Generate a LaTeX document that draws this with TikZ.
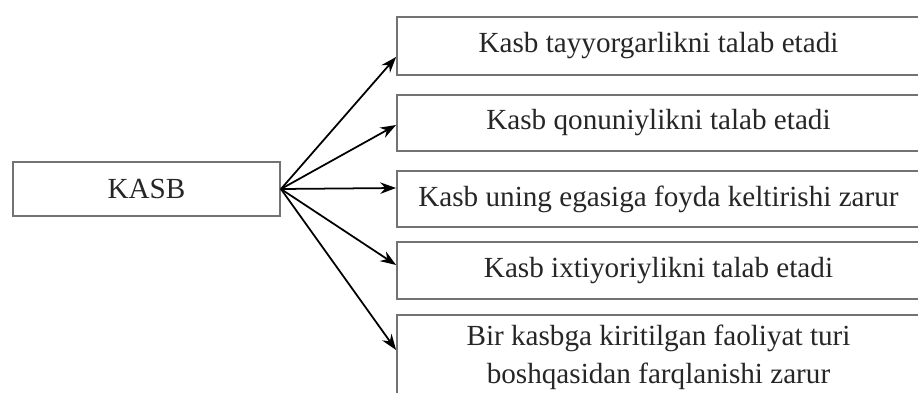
\documentclass[tikz,border=0pt]{standalone}
\usepackage{fontspec}
\setmainfont{Liberation Serif}
\usetikzlibrary{arrows.meta}

\begin{document}
\begin{tikzpicture}[x=0.02cm,y=-0.02cm,>=Stealth,
  card/.style={draw=black!55,line width=1.1pt,align=center,text=black!85,
    font=\fontsize{16.6}{21.5}\selectfont,inner sep=0pt},
  leaf/.style={card,minimum width=10.46cm},
  ray/.style={->,line width=1pt,>={Stealth[length=9pt,width=6.5pt]}}]
  \clip (0,0) rectangle (918,392);
  \useasboundingbox (0,0) rectangle (918,392);
  \node[card,minimum width=5.34cm,minimum height=1.08cm] (k) at (146.5,189) {KASB};
  \node[leaf,minimum height=1.16cm] (b1) at (658.5,46) {Kasb tayyorgarlikni talab etadi};
  \node[leaf,minimum height=1.12cm] (b2) at (658.5,123) {Kasb qonuniylikni talab etadi};
  \node[leaf,minimum height=1.12cm] (b3) at (658.5,199) {Kasb uning egasiga foyda keltirishi zarur};
  \node[leaf,minimum height=1.14cm] (b4) at (658.5,270.5) {Kasb ixtiyoriylikni talab etadi};
  \node[leaf,minimum height=1.7cm] (b5) at (658.5,357.5) {Bir kasbga kiritilgan faoliyat turi\\ boshqasidan farqlanishi zarur};
  % arrow ends on the left sides
  \coordinate (t1) at (b1.west |- 0,57);
  \coordinate (t2) at (b2.west |- 0,125);
  \coordinate (t3) at (b3.west |- 0,188);
  \coordinate (t4) at (b4.west |- 0,265);
  \coordinate (t5) at (b5.west |- 0,350);
  \foreach \i in {1,...,5}
    \draw[ray] (k.east) -- (t\i);
\end{tikzpicture}
\end{document}
